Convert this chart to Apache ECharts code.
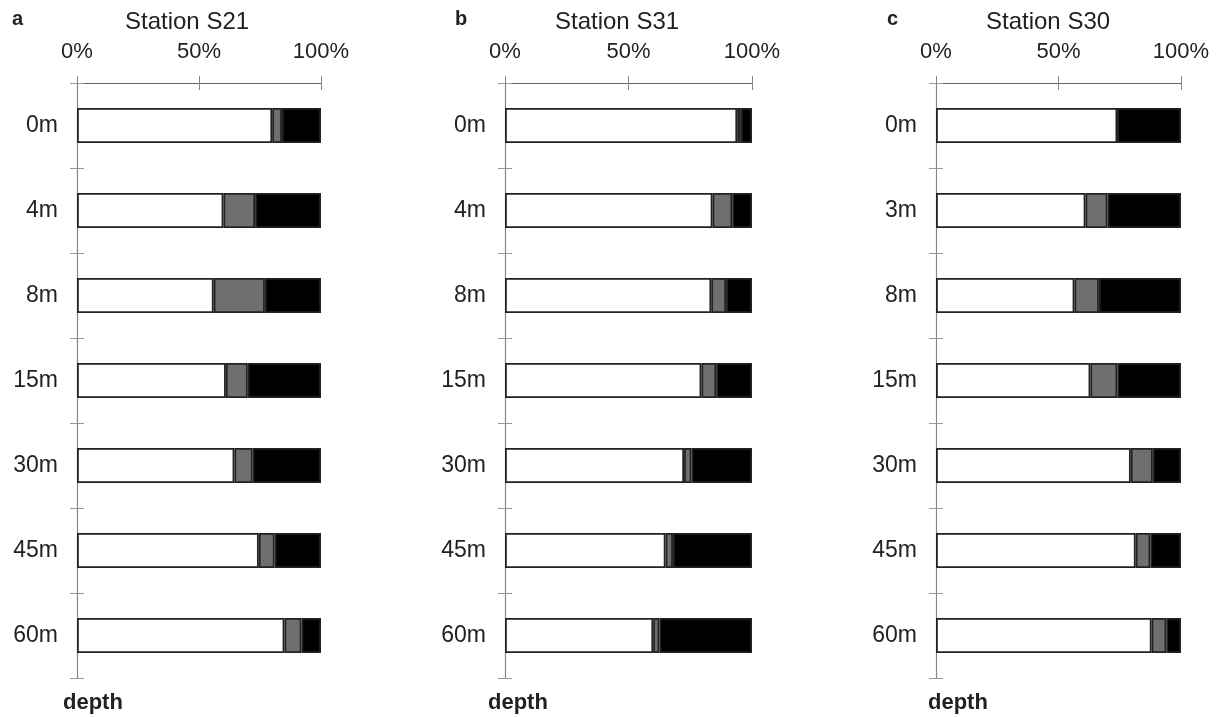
<!DOCTYPE html>
<html>
<head>
<meta charset="utf-8">
<script src="https://cdn.jsdelivr.net/npm/echarts@6/dist/echarts.min.js"></script>
<style>
  html, body { margin: 0; padding: 0; background: #fff; }
  #chart { width: 1218px; height: 717px; }
</style>
</head>
<body>
<div id="chart"></div>
<script>
// Depth categories per station
const depthsS21 = ['0m', '4m', '8m', '15m', '30m', '45m', '60m'];
const depthsS31 = ['0m', '4m', '8m', '15m', '30m', '45m', '60m'];
const depthsS30 = ['0m', '3m', '8m', '15m', '30m', '45m', '60m'];

// Percentage shares (white / grey / black) at each depth
const s21White = [80, 60, 56, 61, 64.5, 74.5, 85];
const s21Grey  = [4, 13, 21, 9, 7.5, 6.5, 7];
const s21Black = [16, 27, 23, 30, 28, 19, 8];

const s31White = [94, 84, 83.5, 79.5, 72.5, 65, 60];
const s31Grey  = [1.5, 8, 6, 6, 3, 3, 2.5];
const s31Black = [4.5, 8, 10.5, 14.5, 24.5, 32, 37.5];

const s30White = [74, 61, 56.5, 63, 79.5, 81.5, 88];
const s30Grey  = [0, 9, 10, 11, 9, 6, 6];
const s30Black = [26, 30, 33.5, 26, 11.5, 12.5, 6];

const percentTicks = [0, 50, 100];

const panels = [
  { letter: 'a', title: 'Station S21', depths: depthsS21, white: s21White, grey: s21Grey, black: s21Black,
    left: 77, width: 244, titleX: 125, letterX: 12, depthX: 63 },
  { letter: 'b', title: 'Station S31', depths: depthsS31, white: s31White, grey: s31Grey, black: s31Black,
    left: 505, width: 247, titleX: 555, letterX: 455, depthX: 488 },
  { letter: 'c', title: 'Station S30', depths: depthsS30, white: s30White, grey: s30Grey, black: s30Black,
    left: 936, width: 245, titleX: 986, letterX: 887, depthX: 928 }
];

const FONT = 'Liberation Sans, Arial, sans-serif';
const TEXT = '#222';

const grid = [], xAxis = [], yAxis = [], series = [], title = [];

panels.forEach((p, i) => {
  grid.push({ left: p.left, width: p.width, top: 83, height: 595 });

  // main percentage axis on top (ticks pointing up) + overlay for inward ticks
  xAxis.push({
    gridIndex: i, type: 'value', position: 'top', min: 0, max: 100, interval: 50,
    axisLine: { show: true, onZero: false, lineStyle: { color: '#666', width: 1 } },
    axisTick: { show: true, length: 7, lineStyle: { color: '#888' } },
    axisLabel: { show: true, margin: 20, fontSize: 22, color: TEXT, fontFamily: FONT,
      formatter: v => percentTicks.includes(v) ? v + '%' : '' },
    splitLine: { show: false }
  });
  xAxis.push({
    gridIndex: i, type: 'value', position: 'top', min: 0, max: 100, interval: 50,
    axisLine: { show: false, onZero: false },
    axisTick: { show: true, inside: true, length: 7, lineStyle: { color: '#888' } },
    axisLabel: { show: false },
    splitLine: { show: false }
  });

  // depth axis (categories), plus overlay for inward ticks
  yAxis.push({
    gridIndex: i, type: 'category', data: p.depths, inverse: true, position: 'left',
    axisLine: { show: true, onZero: false, lineStyle: { color: '#888', width: 1.2 } },
    axisTick: { show: true, length: 7, lineStyle: { color: '#999' } },
    axisLabel: { margin: 19, fontSize: 23, color: TEXT, fontFamily: FONT }
  });
  yAxis.push({
    gridIndex: i, type: 'category', data: p.depths, inverse: true, position: 'left',
    axisLine: { show: false, onZero: false },
    axisTick: { show: true, inside: true, length: 7, lineStyle: { color: '#999' } },
    axisLabel: { show: false }
  });

  const parts = [
    { name: 'white', data: p.white, color: '#ffffff' },
    { name: 'grey', data: p.grey, color: '#6f6f6f' },
    { name: 'black', data: p.black, color: '#000000' }
  ];
  parts.forEach(part => {
    series.push({
      type: 'bar', name: part.name, stack: 'share' + i,
      xAxisIndex: i * 2, yAxisIndex: i * 2,
      data: part.data, barWidth: 35,
      itemStyle: { color: part.color, borderColor: '#222', borderWidth: 1.8 },
      silent: true, animation: false
    });
  });

  title.push({
    text: p.letter, left: p.letterX, top: 9, padding: 0,
    textStyle: { fontSize: 20, fontWeight: 'bold', color: TEXT, fontFamily: FONT }
  });
  title.push({
    text: p.title, left: p.titleX, top: 10, padding: 0,
    textStyle: { fontSize: 24, fontWeight: 'normal', color: TEXT, fontFamily: FONT }
  });
  title.push({
    text: 'depth', left: p.depthX, top: 692, padding: 0,
    textStyle: { fontSize: 22, fontWeight: 'bold', color: TEXT, fontFamily: FONT }
  });
});

const chart = echarts.init(document.getElementById('chart'), null, { renderer: 'canvas' });
chart.setOption({
  backgroundColor: '#ffffff',
  animation: false,
  title, grid, xAxis, yAxis, series
});
</script>
</body>
</html>
